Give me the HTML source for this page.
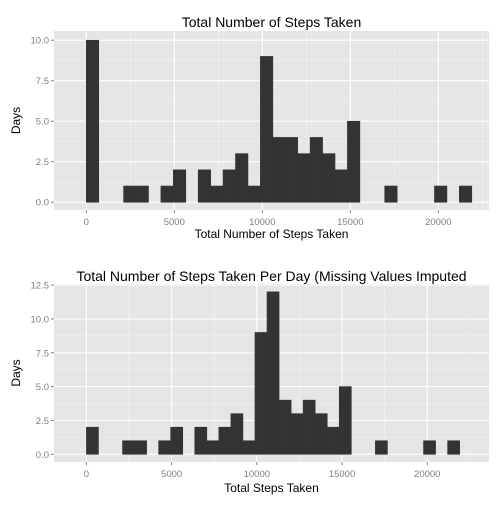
<!DOCTYPE html>
<html><head><meta charset="utf-8"><style>
body{margin:0;background:#fff;font-family:"Liberation Sans",sans-serif}
svg text{font-family:"Liberation Sans",sans-serif}
</style></head><body>
<svg id="s" width="504" height="504"></svg>
<script>
const binWidth = 706.5;
const topCounts = [10,0,0,1,1,0,1,2,0,2,1,2,3,1,9,4,4,3,4,3,2,5,0,0,1,0,0,0,1,0,1];
const bottomCounts = [2,0,0,1,1,0,1,2,0,2,1,2,3,1,9,12,4,3,4,3,2,5,0,0,1,0,0,0,1,0,1];
const xTicks = [0,5000,10000,15000,20000];
const topYTicks = [0,2.5,5,7.5,10];
const bottomYTicks = [0,2.5,5,7.5,10,12.5];
const NS="http://www.w3.org/2000/svg";
const svg=document.getElementById('s');
function mk(tag,attrs,parent){const e=document.createElementNS(NS,tag);for(const k in attrs)e.setAttribute(k,attrs[k]);(parent||svg).appendChild(e);return e;}
function panel(cfg){
  const g=mk('g',{});
  
  
  const {L,R,T,B,x0,x1,y0,y1}=cfg;
  const X=v=>L+(v-x0)/(x1-x0)*(R-L);
  const Y=v=>B-(v-y0)/(y1-y0)*(B-T);
  const bg=mk('rect',{x:L,y:T,width:R-L,height:B-T,fill:'#e5e5e5'},g);
  
  
  for(let i=0;i<xTicks.length+1;i++){const v=xTicks[0]-2500+i*5000;if(X(v)>L&&X(v)<R)mk('line',{x1:X(v),x2:X(v),y1:T,y2:B,stroke:'#f2f2f2','stroke-width':0.6},g);}
  for(let i=0;i<cfg.yTicks.length+1;i++){const v=cfg.yTicks[0]-1.25+i*2.5;if(Y(v)>T&&Y(v)<B)mk('line',{x1:L,x2:R,y1:Y(v),y2:Y(v),stroke:'#f2f2f2','stroke-width':0.6},g);}
  xTicks.forEach(v=>{mk('line',{x1:X(v),x2:X(v),y1:T,y2:B,stroke:'#fff','stroke-width':1.1},g);
    const t=mk('text',{x:X(v),y:B+15,'text-anchor':'middle','font-size':9.5,fill:'#7f7f7f'},g);t.textContent=v;
    });
  cfg.yTicks.forEach(v=>{mk('line',{x1:L,x2:R,y1:Y(v),y2:Y(v),stroke:'#fff','stroke-width':1.1},g);
    mk('line',{x1:L-3,x2:L,y1:Y(v),y2:Y(v),stroke:'#7f7f7f'},g);
    const t=mk('text',{x:L-5,y:Y(v)+3.5,'text-anchor':'end','font-size':9.5,fill:'#7f7f7f'},g);t.textContent=v.toFixed(1);
    });
  xTicks.forEach(v=>mk('line',{x1:X(v),x2:X(v),y1:B,y2:B+3,stroke:'#7f7f7f'},g));
  cfg.counts.forEach((c,i)=>{if(c<=0)return;
    const r=mk('rect',{x:X(i*binWidth),y:Y(c),width:X((i+1)*binWidth)-X(i*binWidth),height:Y(0)-Y(c),fill:'#333',stroke:'#333','stroke-width':0.6},g);
    });
  const tt=mk('text',{x:(L+R)/2,y:cfg.titleY,'text-anchor':'middle','font-size':14,fill:'#000'},g);tt.textContent=cfg.title;
  
  const xt=mk('text',{x:(L+R)/2,y:B+cfg.xTitleOff,'text-anchor':'middle','font-size':12,fill:'#000'},g);xt.textContent=cfg.xTitle;
  
  const yt=mk('text',{x:0,y:0,'text-anchor':'middle','font-size':12,fill:'#000',transform:`translate(20,${(T+B)/2}) rotate(-90)`},g);yt.textContent='Days';
  
}
panel({name:'top-histogram',L:54,R:489,T:31,B:210,x0:-1835,x1:22880,y0:-0.48,y1:10.57,yTicks:topYTicks,counts:topCounts,title:'Total Number of Steps Taken',titleY:27,xTitle:'Total Number of Steps Taken',xTitleOff:28});
panel({name:'bottom-histogram',L:54,R:489,T:284,B:462,x0:-1902,x1:23623,y0:-0.57,y1:12.58,yTicks:bottomYTicks,counts:bottomCounts,title:'Total Number of Steps Taken Per Day (Missing Values Imputed',titleY:281,xTitle:'Total Steps Taken',xTitleOff:30});
</script>
</body></html>
